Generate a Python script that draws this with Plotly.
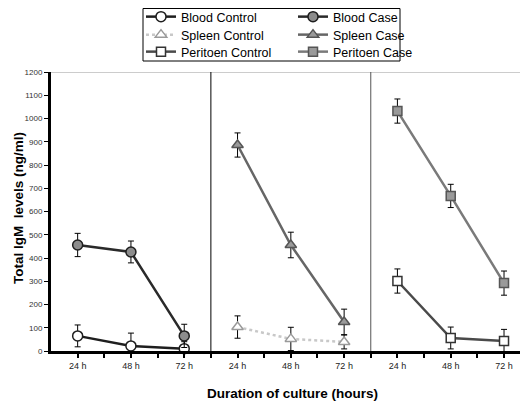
import plotly.graph_objects as go

# ---- data ----
times = ["24 h", "48 h", "72 h"]
tissues = ["Blood", "Spleen", "Peritoen"]

blood_control = [65, 22, 10]
blood_control_err = [47, 55, 30]
blood_case = [456, 426, 65]
blood_case_err = [50, 47, 50]

spleen_control = [103, 52, 39]
spleen_control_err = [48, 50, 30]
spleen_case = [886, 456, 125]
spleen_case_err = [52, 55, 55]

peritoen_control = [301, 56, 43]
peritoen_control_err = [52, 47, 50]
peritoen_case = [1032, 667, 292]
peritoen_case_err = [52, 50, 52]

y_ticks = list(range(0, 1201, 100))

x_title = "Duration of culture (hours)"
y_title = "Total IgM  levels (ng/ml)"

# page body has an 8px margin: build the figure so that it fills the window
OFF = 8
WIN_W, WIN_H = 528, 404
W, H = WIN_W - OFF, WIN_H - OFF


def fx(wx):
    return wx - OFF


def fy(wy):
    return wy - OFF


L, R, T = fx(51), 0, fy(72)
B = H - fy(351)
PW, PH = W - L - R, H - T - B


def px_x(wx):  # window px -> paper x
    return (fx(wx) - L) / PW


def px_y(wy):  # window px -> paper y
    return (H - B - fy(wy)) / PH


series = [
    # name, panel, values, errors, line color, dash, symbol, fill, outline
    ("Blood Control", 0, blood_control, blood_control_err, "#1e1e1e", "solid", "circle", "white", "#1e1e1e"),
    ("Blood Case", 0, blood_case, blood_case_err, "#2a2a2a", "solid", "circle", "#8c8c8c", "#1e1e1e"),
    ("Spleen Control", 1, spleen_control, spleen_control_err, "#c8c8c8", "dot", "triangle-up", "white", "#9a9a9a"),
    ("Spleen Case", 1, spleen_case, spleen_case_err, "#666666", "solid", "triangle-up", "#9a9a9a", "#555555"),
    ("Peritoen Control", 2, peritoen_control, peritoen_control_err, "#4a4a4a", "solid", "square", "white", "#333333"),
    ("Peritoen Case", 2, peritoen_case, peritoen_case_err, "#7a7a7a", "solid", "square", "#9a9a9a", "#555555"),
]

# legend slot positions (window px): column x, row anchor y
legend_cols = [141, 293]
legend_rows = [17, 35, 52]

fig = go.Figure()
n_t = len(times)
legend_layout = {}
for k, (name, panel, vals, errs, lc, dash, sym, fill, outline) in enumerate(series):
    xs = [panel * n_t + i for i in range(n_t)]
    lg = "legend" if k == 0 else f"legend{k + 1}"
    fig.add_trace(go.Scatter(
        x=xs, y=vals, name=name, mode="lines+markers",
        line=dict(color=lc, width=2.5, dash=dash),
        marker=dict(symbol=sym, size=10 if sym != "square" else 9, color=fill,
                    line=dict(color=outline, width=1.5)),
        error_y=dict(type="data", array=errs, visible=True, color="black",
                     thickness=1, width=3),
        legend=lg, cliponaxis=False,
    ))
    col = k % 2
    row = k // 2
    legend_layout[lg] = dict(
        xref="container", yref="container",
        x=fx(legend_cols[col]) / W, y=1 - fy(legend_rows[row]) / H,
        xanchor="left", yanchor="middle",
        bgcolor="rgba(0,0,0,0)", borderwidth=0,
        font=dict(size=12.5, family="Liberation Sans, Arial, sans-serif", color="black"),
        itemwidth=30,
    )

# x ticks: labels at centers, blank ticks at boundaries
tickvals = []
ticktext = []
for p in range(len(tissues)):
    for i, t in enumerate(times):
        c = p * n_t + i
        tickvals.append(c)
        ticktext.append(t)
        tickvals.append(c + 0.5)
        ticktext.append("")

x_min, x_max = -0.5, 8.45
shapes = [
    dict(type="line", xref="x", yref="y", x0=x_min, x1=x_max, y0=1200, y1=1200,
         line=dict(color="#9a9a9a", width=1)),
    dict(type="line", xref="x", yref="y", x0=2.5, x1=2.5, y0=-20, y1=1200,
         line=dict(color="black", width=1)),
    dict(type="line", xref="x", yref="y", x0=5.5, x1=5.5, y0=-20, y1=1200,
         line=dict(color="#555555", width=1)),
    # legend box
    dict(type="rect", xref="paper", yref="paper",
         x0=px_x(143), x1=px_x(400),
         y0=px_y(61), y1=px_y(8.5),
         line=dict(color="black", width=1), fillcolor="rgba(0,0,0,0)"),
]

annotations = [
    dict(text=f"<b>{x_title}</b>", xref="paper", yref="paper",
         x=px_x(292), y=px_y(393), xanchor="center", yanchor="middle",
         showarrow=False, font=dict(size=13.5, color="black")),
    dict(text=f"<b>{y_title}</b>", xref="paper", yref="paper",
         x=px_x(18), y=px_y(208), xanchor="center", yanchor="middle",
         textangle=-90, showarrow=False, font=dict(size=13.5, color="black")),
]

font_family = "Liberation Sans, Arial, sans-serif"
fig.update_layout(
    width=W, height=H,
    margin=dict(l=L, r=R, t=T, b=B, autoexpand=False),
    paper_bgcolor="white", plot_bgcolor="white",
    font=dict(family=font_family, color="black"),
    shapes=shapes,
    annotations=annotations,
    showlegend=True,
    xaxis=dict(range=[x_min, x_max], tickmode="array", tickvals=tickvals, ticktext=ticktext,
               showgrid=False, zeroline=False, showline=True, linecolor="black", linewidth=3,
               ticks="outside", ticklen=4, tickwidth=1.5, tickcolor="black",
               tickfont=dict(size=9, color="#222")),
    yaxis=dict(range=[0, 1200], tickmode="array", tickvals=y_ticks,
               showgrid=False, zeroline=False, showline=True, linecolor="black", linewidth=3,
               ticks="outside", ticklen=4, tickwidth=1, tickcolor="black",
               tickfont=dict(size=8, color="#333")),
    **legend_layout,
)

fig.write_html("out.html")
